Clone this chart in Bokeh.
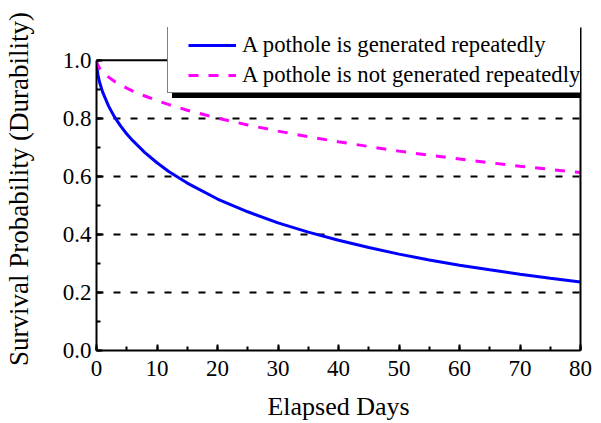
from bokeh.plotting import figure
from bokeh.models import (Range1d, LinearAxis, SingleIntervalTicker, FixedTicker,
                          Legend, LegendItem, ColumnDataSource, PrintfTickFormatter, Span)
from bokeh.embed import file_html
from bokeh.resources import INLINE

# ---- data ----
days = [0, 0.1, 0.25, 0.5, 1, 2, 3, 4, 5, 6, 8, 10, 12, 15, 20, 25, 30, 35,
        40, 45, 50, 55, 60, 65, 70, 75, 80]
repeated = [1.0, 0.970, 0.949, 0.925, 0.891, 0.842, 0.804, 0.773, 0.746, 0.723,
            0.682, 0.647, 0.616, 0.577, 0.522, 0.478, 0.440, 0.408, 0.380, 0.355,
            0.332, 0.312, 0.294, 0.278, 0.263, 0.249, 0.236]
not_repeated = [1.0, 0.989, 0.982, 0.973, 0.960, 0.942, 0.927, 0.915, 0.904, 0.894,
                0.877, 0.861, 0.847, 0.828, 0.801, 0.777, 0.756, 0.737, 0.719, 0.703,
                0.687, 0.673, 0.660, 0.647, 0.635, 0.624, 0.613]
x_ticks = [0, 10, 20, 30, 40, 50, 60, 70, 80]
y_ticks = [0.0, 0.2, 0.4, 0.6, 0.8, 1.0]
grid_levels = [0.2, 0.4, 0.6, 0.8]
legend_labels = ["A pothole is generated repeatedly",
                 "A pothole is not generated repeatedly"]
x_label = "Elapsed Days"
y_label = "Survival Probability (Durability)"

FONT = "Liberation Serif"

# frame: x 0..80 over 490 px; y 0..1 over 292 px, with headroom above 1.0 for the legend
Y_TOP = 1.113
p = figure(width=593, height=423, output_backend="svg", toolbar_location=None,
           x_range=Range1d(x_ticks[0], x_ticks[-1]), y_range=Range1d(y_ticks[0], Y_TOP),
           min_border_left=90, min_border_right=13, min_border_top=27,
           min_border_bottom=71, x_axis_label=x_label, y_axis_label=y_label)
p.outline_line_color = None
p.background_fill_color = "white"
p.border_fill_color = "white"

p.xgrid.visible = False
p.ygrid.ticker = FixedTicker(ticks=grid_levels)
p.ygrid.grid_line_color = "black"
p.ygrid.grid_line_width = 2
p.ygrid.grid_line_dash = "7 10"

xaxis = p.xaxis[0]
xaxis.ticker = SingleIntervalTicker(interval=10, num_minor_ticks=2)
yaxis = p.yaxis[0]
yaxis.ticker = SingleIntervalTicker(interval=0.2, num_minor_ticks=2)
yaxis.formatter = PrintfTickFormatter(format="%.1f")
yaxis.bounds = (y_ticks[0], y_ticks[-1])
for ax in (xaxis, yaxis):
    ax.axis_line_width = 2
    ax.axis_line_color = "black"
    ax.major_tick_in = 6
    ax.major_tick_out = 0
    ax.minor_tick_in = 4
    ax.minor_tick_out = 0
    ax.major_tick_line_width = 2
    ax.minor_tick_line_width = 2
    ax.major_tick_line_color = "black"
    ax.minor_tick_line_color = "black"
    ax.major_label_text_font = FONT
    ax.major_label_text_font_size = "23px"
    ax.major_label_text_color = "black"
    ax.axis_label_text_font = FONT
    ax.axis_label_text_font_style = "normal"
    ax.axis_label_text_color = "black"
xaxis.axis_label_text_font_size = "26px"
yaxis.axis_label_text_font_size = "27px"
xaxis.major_label_standoff = 10
xaxis.axis_label_standoff = 13
yaxis.major_label_standoff = 5
yaxis.axis_label_standoff = 26

# right frame border
rax = LinearAxis(ticker=FixedTicker(ticks=[]), axis_line_width=2,
                 axis_line_color="black", major_tick_in=0, major_tick_out=0,
                 minor_tick_in=0, minor_tick_out=0, major_label_standoff=0)
p.add_layout(rax, "right")
# top frame border at y = 1.0
p.add_layout(Span(location=y_ticks[-1], dimension="width", line_color="black",
                  line_width=2))

src = ColumnDataSource(data=dict(day=days, rep=repeated, notrep=not_repeated))
r_blue = p.line("day", "rep", source=src, line_color="#0000FF", line_width=3)
r_mag = p.line("day", "notrep", source=src, line_color="#FF00FF", line_width=3,
               line_dash="10 10")
key_none = p.line("day", "rep", source=src, line_alpha=0)

def box_legend(loc, bg, border):
    return Legend(items=[LegendItem(label=" ", renderers=[key_none])], location=loc,
                  padding=0, margin=0, spacing=0, glyph_width=20, glyph_height=67,
                  label_width=440, label_height=67, label_standoff=0,
                  label_text_color=bg, background_fill_color=bg,
                  background_fill_alpha=1.0, border_line_color=border,
                  border_line_width=1)

shadow = box_legend((75.5, 252), "black", "black")
box = box_legend((70.5, 257), "white", "black")
fg = Legend(items=[LegendItem(label=legend_labels[0], renderers=[r_blue]),
                   LegendItem(label=legend_labels[1], renderers=[r_mag])],
            location=(92, 260.3), padding=0, margin=0, spacing=0,
            glyph_width=48, glyph_height=30, label_height=30, label_standoff=6,
            label_text_font=FONT, label_text_font_size="22.7px",
            label_text_color="black", background_fill_alpha=0,
            border_line_color=None)
p.add_layout(shadow)
p.add_layout(box)
p.add_layout(fg)

open("out.html", "w").write(file_html(p, INLINE))
